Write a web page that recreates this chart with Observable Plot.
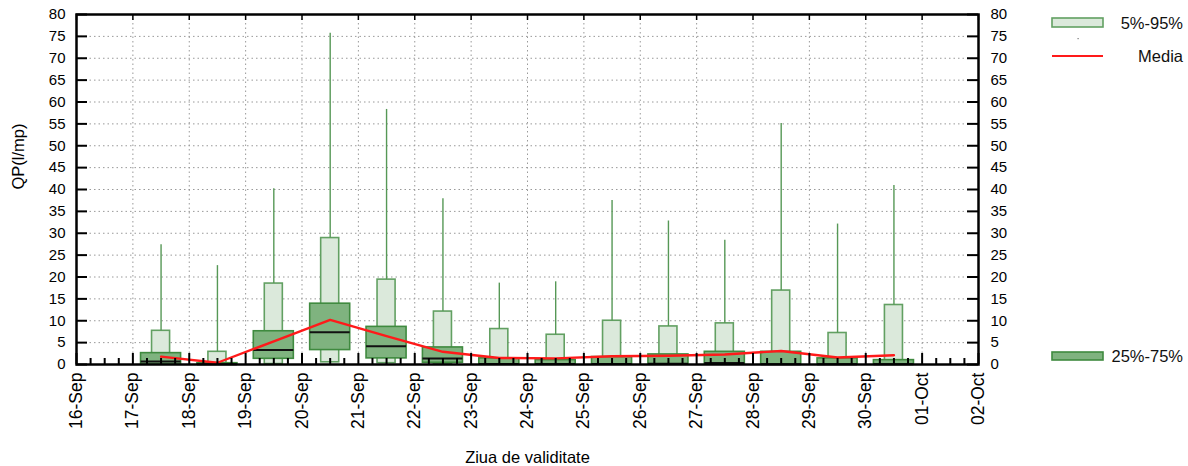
<!DOCTYPE html>
<html>
<head>
<meta charset="utf-8">
<script src="https://cdn.jsdelivr.net/npm/d3@7"></script>
<script src="https://cdn.jsdelivr.net/npm/@observablehq/plot@0.6"></script>
<style>
  html, body { margin: 0; padding: 0; background: #fff; }
  #chart svg { font-family: "Liberation Sans", Arial, sans-serif; }
</style>
</head>
<body>
<div id="chart"></div>
<script>
// ---- data ----
const days = ["2023-09-17","2023-09-18","2023-09-19","2023-09-20","2023-09-21","2023-09-22","2023-09-23",
              "2023-09-24","2023-09-25","2023-09-26","2023-09-27","2023-09-28","2023-09-29","2023-09-30"];
const maxVal = [27.4, 22.6, 40.2, 75.7, 58.3, 37.9, 18.6, 18.9, 37.5, 32.8, 28.4, 55.1, 32.1, 40.9];
const p95    = [7.7, 2.9, 18.5, 28.9, 19.4, 12.1, 8.1, 6.8, 10.0, 8.7, 9.4, 16.9, 7.2, 13.6];
const p75    = [2.6, 0.3, 7.6, 13.9, 8.6, 3.9, 1.4, 1.0, 1.7, 2.3, 2.9, 2.9, 1.4, 1.0];
const median = [0.7, 0.05, 3.3, 7.4, 4.2, 1.4, 0.1, 0.1, 0.1, 0.2, 0.35, 0.05, 0.05, 0.05];
const p25    = [0, 0, 1.3, 3.3, 1.4, 0.4, 0, 0, 0, 0, 0, 0, 0, 0];
const p5     = [0, 0, 0.1, 0.5, 0.3, 0.05, 0, 0, 0, 0, 0, 0, 0, 0];
const mean   = [1.8, 0.4, 5.3, 10.2, 6.5, 2.9, 1.5, 1.4, 1.9, 2.0, 2.3, 3.1, 1.6, 2.1];
const yTicks = [0,5,10,15,20,25,30,35,40,45,50,55,60,65,70,75,80];
const xStart = "2023-09-16", xEnd = "2023-10-02";
const yLabel = "QP(l/mp)";
const xLabel = "Ziua de validitate";
const legendLabels = ["5%-95%", "Media", "25%-75%"];

// ---- derived table ----
const DAY = 864e5, HALF = DAY / 2;
const t0 = new Date(xStart + "T00:00Z"), t1 = new Date(xEnd + "T00:00Z");
const table = days.map((d, i) => {
  const c = +new Date(d + "T00:00Z") + HALF;
  return {
    date: new Date(c),
    lx1: new Date(c - 0.16 * DAY), lx2: new Date(c + 0.16 * DAY),
    dx1: new Date(c - 0.355 * DAY), dx2: new Date(c + 0.355 * DAY),
    max: maxVal[i], p95: p95[i], p75: p75[i], med: median[i], p25: p25[i], p5: p5[i], mean: mean[i]
  };
});
const dayTicks = d3.utcDay.range(t0, new Date(+t1 + 1));
const innerDays = dayTicks.filter(d => +d > +t0 && +d < +t1);
const minorTicks = d3.utcHour.every(6).range(t0, t1).filter(d => d.getUTCHours() !== 0);

const W = 1188, H = 466, mL = 76, mR = 210, mT = 14, mB = 102;
const pw = W - mL - mR, ph = H - mT - mB;

const lightFill = "#dbe9db", lightStroke = "#62a062";
const darkFill = "#7fb37f", darkStroke = "#3f8a3f";
const red = "#ff1a1a";
const grid = {stroke: "#999", strokeWidth: 1, strokeDasharray: "1.5,3"};

const chart = Plot.plot({
  width: W, height: H,
  marginLeft: mL, marginRight: mR, marginTop: mT, marginBottom: mB,
  style: {fontFamily: "'Liberation Sans', Arial, sans-serif", fontSize: "15px", background: "#fff"},
  x: {type: "utc", domain: [t0, t1]},
  y: {domain: [0, 80]},
  marks: [
    Plot.ruleY(yTicks.filter(v => v > 0 && v < 80), grid),
    Plot.ruleX(innerDays, grid),
    // 5%-95% boxes
    Plot.rect(table, {x1: "lx1", x2: "lx2", y1: "p5", y2: "p95", fill: lightFill, stroke: lightStroke, strokeWidth: 1.6}),
    // whiskers to max
    Plot.ruleX(table, {x: "date", y1: "p95", y2: "max", stroke: "#569856", strokeWidth: 1.4}),
    // 25%-75% boxes
    Plot.rect(table, {x1: "dx1", x2: "dx2", y1: "p25", y2: "p75", fill: darkFill, stroke: darkStroke, strokeWidth: 1.6}),
    // medians
    Plot.ruleY(table, {y: "med", x1: "dx1", x2: "dx2", stroke: "#111", strokeWidth: 2}),
    // mean
    Plot.line(table, {x: "date", y: "mean", stroke: red, strokeWidth: 2.4}),
    // ticks
    Plot.tickX(dayTicks, {x: d => d, stroke: "#000", strokeWidth: 2, insetTop: ph - 11}),
    Plot.tickX(minorTicks, {x: d => d, stroke: "#000", strokeWidth: 2, insetTop: ph - 6}),
    Plot.tickX(dayTicks, {x: d => d, stroke: "#000", strokeWidth: 1.5, insetBottom: ph - 6}),
    Plot.tickY(yTicks, {y: d => d, stroke: "#000", strokeWidth: 2, insetRight: pw - 11}),
    Plot.tickY(yTicks, {y: d => d, stroke: "#000", strokeWidth: 2, insetLeft: pw - 11}),
    Plot.frame({stroke: "#000", strokeWidth: 2.5}),
    Plot.axisY(yTicks, {anchor: "left", tickSize: 0, tickPadding: 11, fontSize: 15, label: null}),
    Plot.axisY(yTicks, {anchor: "right", tickSize: 0, tickPadding: 12, fontSize: 15, label: null}),
    Plot.axisX(dayTicks, {anchor: "bottom", tickSize: 0, tickPadding: 8, tickRotate: -90, fontSize: 17.5,
      tickFormat: d3.utcFormat("%d-%b"), label: null}),
    Plot.text([yLabel], {frameAnchor: "left", text: d => d, rotate: -90, dx: -58, fontSize: 16.5}),
    Plot.text([xLabel], {frameAnchor: "bottom", text: d => d, dy: 98, fontSize: 16.5})
  ]
});
document.getElementById("chart").appendChild(chart);

// ---- legend (in the right margin) ----
const svg = d3.select(chart);
const lg = svg.append("g").attr("font-family", "'Liberation Sans', Arial, sans-serif").attr("font-size", 16.5).attr("fill", "#111");
lg.append("rect").attr("x", 1052).attr("y", 18).attr("width", 51).attr("height", 9)
  .attr("fill", lightFill).attr("stroke", lightStroke).attr("stroke-width", 1.6);
lg.append("text").attr("x", 1183).attr("y", 23).attr("dy", "0.35em").attr("text-anchor", "end").text(legendLabels[0]);
lg.append("rect").attr("x", 1077.5).attr("y", 38).attr("width", 1.2).attr("height", 1.2).attr("fill", "#777");
lg.append("line").attr("x1", 1052).attr("x2", 1103).attr("y1", 56).attr("y2", 56)
  .attr("stroke", red).attr("stroke-width", 2);
lg.append("text").attr("x", 1183).attr("y", 56).attr("dy", "0.35em").attr("text-anchor", "end").text(legendLabels[1]);
lg.append("rect").attr("x", 1052).attr("y", 352).attr("width", 51).attr("height", 8)
  .attr("fill", darkFill).attr("stroke", darkStroke).attr("stroke-width", 1.6);
lg.append("text").attr("x", 1183).attr("y", 356).attr("dy", "0.35em").attr("text-anchor", "end").text(legendLabels[2]);
</script>
</body>
</html>
